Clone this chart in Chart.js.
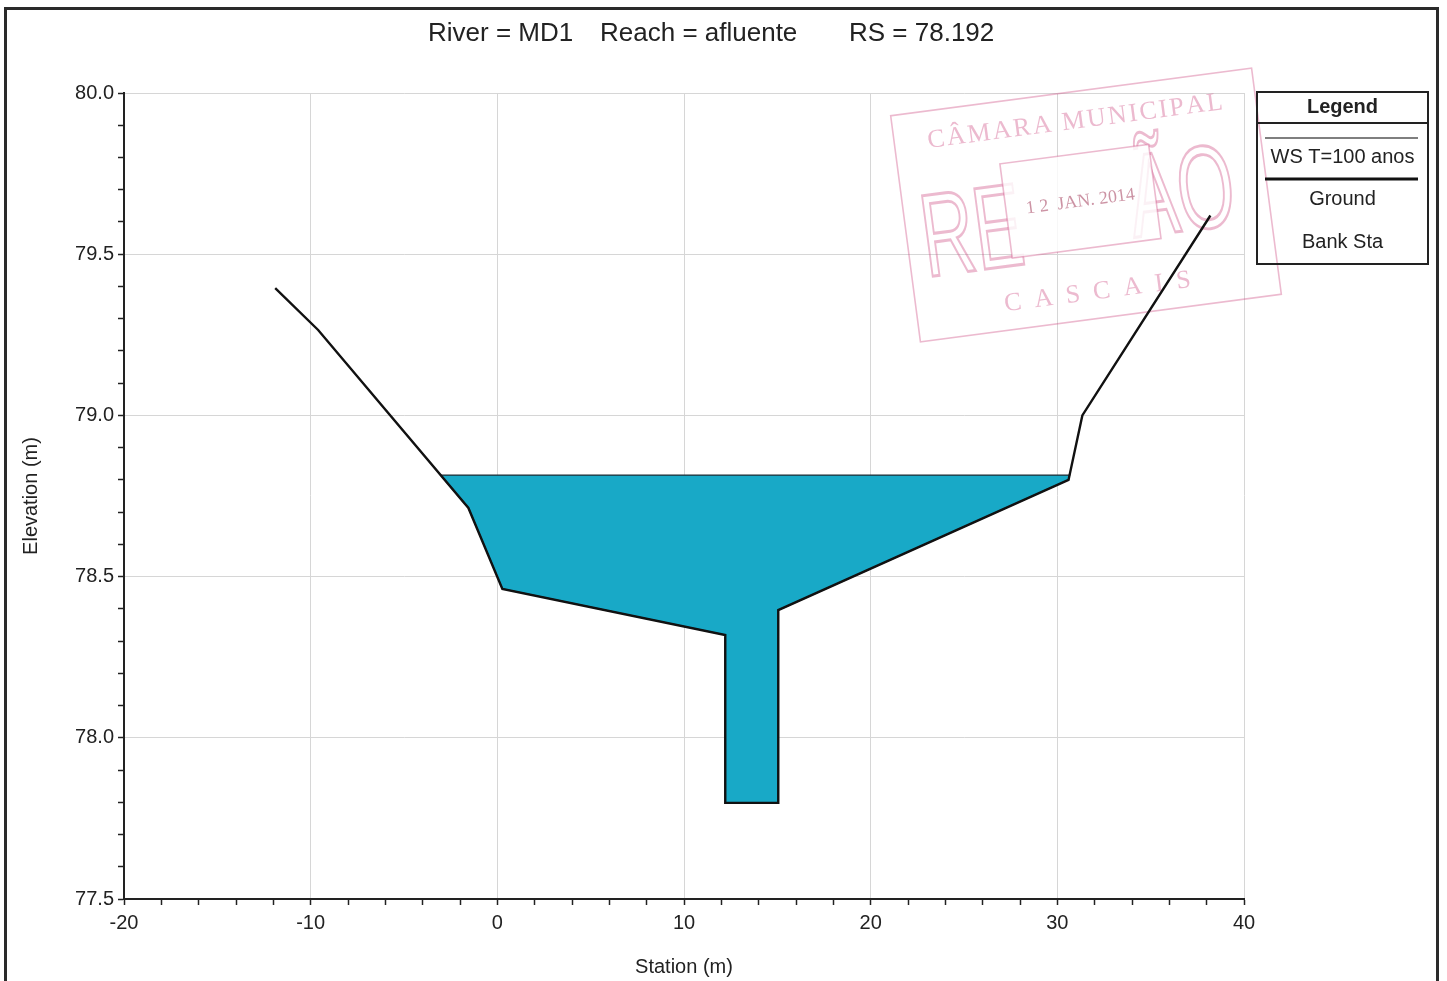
<!DOCTYPE html>
<html>
<head>
<meta charset="utf-8">
<script src="https://cdn.jsdelivr.net/npm/chart.js@4.4.1/dist/chart.umd.min.js"></script>
<style>
html,body{margin:0;padding:0;background:#ffffff;}
#wrap{width:1447px;height:981px;position:relative;overflow:hidden;}
canvas{display:block;}
</style>
</head>
<body>
<div id="wrap"><canvas id="c" width="1447" height="981"></canvas></div>
<script>
// ---- data ----
const titleParts = ['River = MD1', 'Reach = afluente', 'RS = 78.192'];
const groundStation   = [-11.9, -9.6, -1.55, 0.27, 12.21, 12.21, 15.05, 15.05, 30.6, 31.34, 38.2];
const groundElevation = [79.395, 79.265, 78.713, 78.462, 78.319, 77.798, 77.798, 78.396, 78.80, 79.0, 79.62];
const wsStation   = [-3.04, 30.66];
const wsElevation = [78.815, 78.815];
const xTickLabels = [-20, -10, 0, 10, 20, 30, 40];
const yTickLabels = [77.5, 78.0, 78.5, 79.0, 79.5, 80.0];
const legendTitle = 'Legend';
const legendLabels = ['WS T=100 anos', 'Ground', 'Bank Sta'];
const xAxisTitle = 'Station (m)';
const yAxisTitle = 'Elevation (m)';
const stampTop = 'CÂMARA MUNICIPAL';
const stampBottom = 'CASCAIS';
const stampDate = '1 2  JAN. 2014';

// ---- build datasets from the arrays ----
const groundPts = groundStation.map((x, i) => ({x, y: groundElevation[i]}));
const wsLeft = wsStation[0], wsRight = wsStation[wsStation.length - 1];
const waterPoly = [{x: wsLeft, y: wsElevation[0]}, {x: wsRight, y: wsElevation[1]}];
for (let i = groundStation.length - 1; i >= 0; i--) {
  if (groundStation[i] > wsLeft && groundStation[i] < wsRight && groundElevation[i] <= wsElevation[0]) {
    waterPoly.push({x: groundStation[i], y: groundElevation[i]});
  }
}
waterPoly.push({x: wsLeft, y: wsElevation[0]});

const FONT = "'Liberation Sans', Arial, Helvetica, sans-serif";
const near = (arr, v) => arr.some(t => Math.abs(t - v) < 1e-6);

const decorPlugin = {
  id: 'decor',
  beforeDatasetsDraw(chart) {
    // faint rubber stamp present on the scanned page
    const ctx = chart.ctx;
    ctx.save();
    ctx.translate(1086, 205);
    ctx.rotate(-7.5 * Math.PI / 180);
    ctx.globalAlpha = 0.38;
    ctx.strokeStyle = '#cc4a82';
    ctx.fillStyle = '#cc4a82';
    ctx.lineWidth = 1.6;
    ctx.strokeRect(-182, -114, 364, 228);
    ctx.font = "26px 'Liberation Serif', serif";
    ctx.textAlign = 'center';
    ctx.textBaseline = 'middle';
    ctx.fillText(stampTop.split('').join(String.fromCharCode(8202)), 0, -84);
    ctx.fillText(stampBottom.split('').join('  '), 0, 88);
    ctx.save();
    ctx.scale(0.62, 1);
    ctx.font = "118px 'Liberation Sans', sans-serif";
    ctx.textAlign = 'left';
    ctx.lineWidth = 3;
    ctx.strokeText('RE', -270, 18);
    ctx.strokeText('ÃO', 70, 6);
    ctx.restore();
    ctx.globalAlpha = 1;
    ctx.fillStyle = 'rgba(255,255,255,0.8)';
    ctx.fillRect(-80, -52, 150, 95);
    ctx.globalAlpha = 0.38;
    ctx.strokeRect(-80, -52, 150, 95);
    ctx.globalAlpha = 0.55;
    ctx.fillStyle = '#a33a5a';
    ctx.font = "18px 'Liberation Serif', serif";
    ctx.fillText(stampDate, -5, -4);
    ctx.restore();
  },
  afterDraw(chart) {
    const ctx = chart.ctx;
    ctx.save();
    // outer frame
    ctx.strokeStyle = '#2a2a2a';
    ctx.lineWidth = 3;
    ctx.strokeRect(5.5, 8.5, 1432, 985);
    // title
    ctx.fillStyle = '#222';
    ctx.font = '26px ' + FONT;
    ctx.textAlign = 'left';
    ctx.textBaseline = 'alphabetic';
    const tx = [428, 600, 849];
    titleParts.forEach((t, i) => ctx.fillText(t, tx[i], 41));
    // legend box
    ctx.strokeStyle = '#222';
    ctx.lineWidth = 2;
    ctx.strokeRect(1257, 92, 171, 172);
    ctx.beginPath(); ctx.moveTo(1257, 123); ctx.lineTo(1428, 123); ctx.stroke();
    ctx.textAlign = 'center';
    ctx.textBaseline = 'middle';
    ctx.font = 'bold 20px ' + FONT;
    ctx.fillText(legendTitle, 1342.5, 107);
    ctx.font = '20px ' + FONT;
    ctx.strokeStyle = '#555';
    ctx.lineWidth = 1.5;
    ctx.beginPath(); ctx.moveTo(1265, 138); ctx.lineTo(1418, 138); ctx.stroke();
    ctx.fillText(legendLabels[0], 1342.5, 157);
    ctx.strokeStyle = '#111';
    ctx.lineWidth = 3;
    ctx.beginPath(); ctx.moveTo(1265, 179); ctx.lineTo(1418, 179); ctx.stroke();
    ctx.fillText(legendLabels[1], 1342.5, 199);
    ctx.fillText(legendLabels[2], 1342.5, 242);
    ctx.restore();
  }
};

new Chart(document.getElementById('c'), {
  type: 'scatter',
  data: {
    datasets: [
      {
        label: legendLabels[1],
        data: groundPts,
        showLine: true,
        borderColor: '#111111',
        borderWidth: 2.4,
        pointRadius: 0,
        fill: false,
        order: 0
      },
      {
        label: legendLabels[0],
        data: waterPoly,
        showLine: true,
        borderColor: '#1d2b33',
        borderWidth: 1.2,
        backgroundColor: '#18a9c7',
        pointRadius: 0,
        fill: 'shape',
        order: 1
      }
    ]
  },
  plugins: [decorPlugin],
  options: {
    responsive: false,
    animation: false,
    devicePixelRatio: 1,
    layout: {padding: {top: 93, right: 203, left: 0, bottom: 0}},
    plugins: {legend: {display: false}, title: {display: false}, tooltip: {enabled: false}},
    scales: {
      x: {
        type: 'linear',
        min: -20, max: 40,
        afterFit(s) { s.height = 82; },
        border: {display: true, color: '#222', width: 2},
        grid: {
          color: c => near(xTickLabels, c.tick.value) ? '#d6d6d6' : 'rgba(0,0,0,0)',
          tickColor: '#222',
          tickLength: 6,
          tickWidth: 1.5,
          lineWidth: 1
        },
        ticks: {
          stepSize: 2,
          autoSkip: false,
          maxRotation: 0,
          padding: 6,
          color: '#222',
          font: {family: FONT, size: 20},
          callback: v => near(xTickLabels, v) ? String(Math.round(v)) : ''
        },
        title: {display: true, text: xAxisTitle, color: '#222', font: {family: FONT, size: 20}, padding: {top: 0, bottom: 2}}
      },
      y: {
        type: 'linear',
        min: 77.5, max: 80,
        afterFit(s) { s.width = 124; },
        border: {display: true, color: '#222', width: 2},
        grid: {
          color: c => near(yTickLabels, c.tick.value) ? '#d6d6d6' : 'rgba(0,0,0,0)',
          tickColor: '#222',
          tickLength: 6,
          tickWidth: 1.5,
          lineWidth: 1
        },
        ticks: {
          stepSize: 0.1,
          autoSkip: false,
          padding: 4,
          color: '#222',
          font: {family: FONT, size: 20},
          callback: v => near(yTickLabels, v) ? Number(v).toFixed(1) : ''
        },
        title: {display: true, text: yAxisTitle, color: '#222', font: {family: FONT, size: 20}, padding: {top: 19, bottom: 0}}
      }
    }
  }
});
</script>
</body>
</html>
